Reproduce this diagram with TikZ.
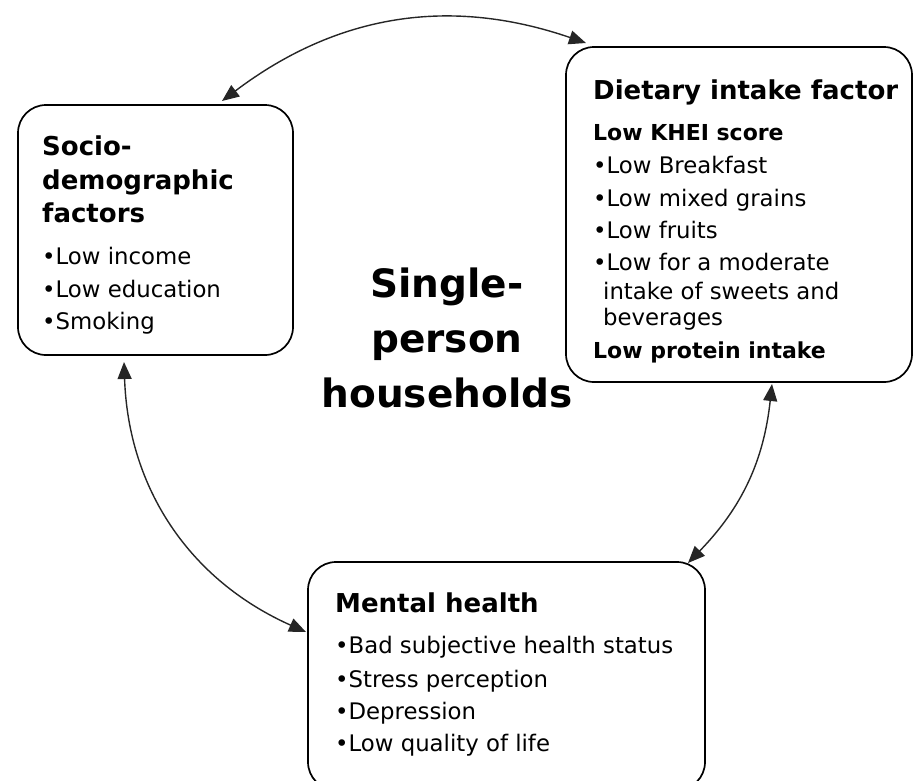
\documentclass[tikz,border=0pt]{standalone}
\usepackage{fontspec}
\setmainfont{DejaVu Sans}
\usetikzlibrary{arrows.meta}
\begin{document}
\begin{tikzpicture}[x=1pt,y=-1pt,
  box/.style={draw=black, line width=1.7pt, rounded corners=28pt, inner sep=0pt},
  ttl/.style={anchor=base west, inner sep=0pt, font=\fontsize{26}{30}\selectfont\bfseries},
  sub/.style={anchor=base west, inner sep=0pt, font=\fontsize{22}{25}\selectfont\bfseries},
  itm/.style={anchor=base west, inner sep=0pt, font=\fontsize{22.8}{26}\selectfont},
  big/.style={anchor=base, inner sep=0pt, font=\fontsize{39}{46}\selectfont\bfseries},
  link/.style={line width=1.4pt, draw=black!85, {Triangle[length=17pt,width=14pt]}-{Triangle[length=17pt,width=14pt]}}]
\useasboundingbox (0,0) rectangle (914,780);
% boxes
\node[box, minimum width=275pt, minimum height=250pt] (socio) at (155.5,230) {};
\node[box, minimum width=346pt, minimum height=335pt] (diet) at (739,214.5) {};
\node[box, minimum width=397pt, minimum height=228pt] (mental) at (506.5,676) {};
% socio text
\node[ttl] (s1) at (42,155) {Socio-};
\node[ttl] (s2) at (42,189) {demographic};
\node[ttl] (s3) at (42,222) {factors};
\node[itm] (s4) at (42,264) {•Low income};
\node[itm] (s5) at (42,297) {•Low education};
\node[itm] (s6) at (42,329) {•Smoking};
% dietary text
\node[ttl] (d1) at (593,99) {Dietary intake factor};
\node[sub] (d2) at (593,140) {Low KHEI score};
\node[itm] (d3) at (593,173) {•Low Breakfast};
\node[itm] (d4) at (593,206) {•Low mixed grains};
\node[itm] (d5) at (593,238) {•Low fruits};
\node[itm] (d6) at (593,270) {•Low for a moderate};
\node[itm] (d7) at (603,299) {intake of sweets and};
\node[itm] (d8) at (603,325) {beverages};
\node[sub] (d9) at (593,358) {Low protein intake};
% mental text
\node[ttl] (m1) at (335,612) {Mental health};
\node[itm] (m2) at (335,653) {•Bad subjective health status};
\node[itm] (m3) at (335,687) {•Stress perception};
\node[itm] (m4) at (335,719) {•Depression};
\node[itm] (m5) at (335,751) {•Low quality of life};
% centre
\node[big] (c1) at (447,297) {Single-};
\node[big] (c2) at (447,352) {person};
\node[big] (c3) at (447,407) {households};
% connector end points
\coordinate (a1) at (222,101);
\coordinate (a2) at (586,43);
\coordinate (b1) at (124,362);
\coordinate (b2) at (306,632);
\coordinate (c1e) at (772,384);
\coordinate (c2e) at (688,563);
\draw[link] (a1) to[bend left=28] (a2);
\draw[link] (b1) to[bend right=32] (b2);
\draw[link] (c1e) to[bend left=19] (c2e);
\end{tikzpicture}
\end{document}
